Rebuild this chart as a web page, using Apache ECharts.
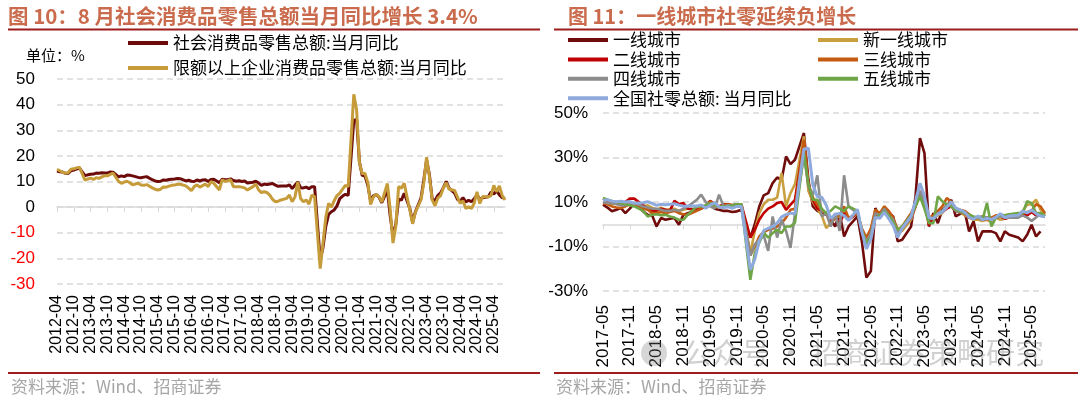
<!DOCTYPE html>
<html lang="zh-CN">
<head>
<meta charset="UTF-8" />
<title>社零</title>
<script src="https://cdn.jsdelivr.net/npm/echarts@6/dist/echarts.min.js"></script>
<style>html,body{margin:0;padding:0;background:#fff;}</style>
</head>
<body>
<div id="main" style="width:1080px;height:398px"></div>
<script>
// month labels, one per month
function monthRange(y0, m0, count) {
  const out = [];
  for (let i = 0; i < count; i++) {
    const t = y0 * 12 + (m0 - 1) + i;
    const y = Math.floor(t / 12), m = (t % 12) + 1;
    out.push(y + "-" + (m < 10 ? "0" + m : m));
  }
  return out;
}
const leftMonths = monthRange(2012, 4, 161);   // 2012-04 .. 2025-08
const rightMonths = monthRange(2017, 5, 100);  // 2017-05 .. 2025-08

// left chart: 社零 / 限额以上 当月同比 (%), Jan left empty
const retail = [
  14.1, 13.8, 13.7, 13.1, 13.2, 14.2, 14.5, 14.9, 15.2,
  null, 12.3, 12.6, 12.8, 12.9, 13.3, 13.2, 13.4, 13.3, 13.3, 13.7, 13.6,
  null, 11.8, 12.2, 11.9, 12.5, 12.4, 12.2, 11.9, 11.6, 11.5, 11.7, 11.9,
  null, 10.7, 10.2, 10.0, 10.1, 10.6, 10.5, 10.8, 10.9, 11.0, 11.2, 11.1,
  null, 10.2, 10.5, 10.1, 10.0, 10.6, 10.2, 10.6, 10.7, 10.0, 10.8, 10.9,
  null, 9.5, 10.9, 10.7, 10.7, 11.0, 10.4, 10.1, 10.3, 10.0, 10.2, 9.4,
  null, 9.7, 10.1, 9.4, 8.5, 9.0, 8.8, 9.0, 9.2, 8.6, 8.1, 8.2,
  null, 8.2, 8.7, 7.2, 8.6, 9.8, 7.6, 7.5, 7.8, 7.2, 8.0, 8.0,
  null, -20.5, -15.8, -7.5, -2.8, -1.8, -1.1, 0.5, 3.3, 4.3, 5.0, 4.6,
  null, 33.8, 34.2, 17.7, 12.4, 12.1, 8.5, 2.5, 4.4, 4.9, 3.9, 1.7,
  null, 6.7, -3.5, -11.1, -6.7, 3.1, 2.7, 5.4, 2.5, -0.5, -5.9, -1.8,
  null, 3.5, 10.6, 18.4, 12.7, 3.1, 2.5, 4.6, 5.5, 7.6, 10.1, 7.4,
  null, 5.5, 3.1, 2.3, 3.7, 2.0, 2.7, 2.1, 3.2, 4.8, 3.0, 3.7,
  null, 4.0, 5.9, 5.1, 6.4, 4.8, 3.7, 3.4
];
const aboveLimit = [
  14.8, 14.2, 13.6, 13.2, 13.5, 14.8, 15.0, 15.3, 15.6,
  null, 10.5, 11.0, 11.3, 10.8, 11.5, 11.2, 11.8, 12.2, 12.2, 12.8, 13.3,
  null, 10.0, 9.3, 9.8, 10.1, 9.5, 8.7, 9.0, 9.3, 8.6, 8.5, 8.8,
  null, 7.5, 7.0, 6.7, 7.0, 7.9, 7.8, 8.2, 8.5, 8.6, 8.9, 8.9,
  null, 8.3, 7.4, 6.4, 8.0, 8.7, 7.8, 8.4, 9.0, 8.0, 10.0, 9.3,
  null, 6.7, 10.7, 10.0, 10.3, 10.7, 8.0, 8.0, 8.0, 7.8, 7.5, 6.7,
  null, 8.0, 9.0, 6.7, 5.7, 6.0, 5.7, 4.7, 3.0, 2.1, 2.3, 2.8,
  null, 3.4, 4.7, 2.1, 4.0, 9.8, 3.4, 2.1, 2.8, 1.2, 4.7, 4.1,
  null, -24.0, -14.0, -4.0, 1.5, 0.0, 2.5, 4.5, 5.5, 7.0, 8.5, 8.0,
  null, 44.0, 38.0, 17.5, 13.0, 13.2, 9.5, 1.0, 4.0, 5.0, 4.0, 2.0,
  null, 9.2, -1.0, -14.0, -7.5, 8.0, 7.4, 9.3, 4.0, -1.0, -6.5, -2.0,
  null, 2.8, 9.5, 19.5, 12.0, 2.8, 0.5, 3.5, 4.5, 7.5, 9.5, 7.0,
  null, 6.5, 4.0, 1.4, 2.5, -0.5, 0.1, -0.5, 1.5, 6.0, 1.4, 4.1,
  null, 4.0, 4.5, 8.5, 6.0, 8.3, 4.5, 2.8
];

// right chart: 各线城市社零当月同比 (%)
const tier1 = [
  8.8, 7.5, 5.8, 6.5, 7.3, 5, 7, 9.5,
  null, 5.8, 4.3, 4, -1, 2.8, 2, 2.5, 2.8, -0.2, 4.3, 5,
  null, 6.5, 7.3, 8, 10.3, 7, 6.5, 6, 6, 5.5, 5.8, 6.5,
  null, -6, 0, 8, 13, 14, 18.5, 21, 20, 30.5, 27, 29,
  null, 41, 20, 8, 6, 5, 4.3, 2, -1, 5, -5.5, -1,
  null, 3.5, -8, -24, -21, 7.3, 2.8, 7.3, 5, 3.5, -7.7, -7,
  null, -1, 12.5, 38.7, 32, -1, 5, 0.5, 6.5, 8, 11, 3.5,
  null, 5.8, -3.2, 1.3, -7.7, -3.2, -3.2, -3.2, -4, -7.7, -3.2, -4.7,
  null, -6, -7.7, -4.7, -0.2, -5.5, -3.2, null
];
const newTier1 = [
  10.5, 9.8, 9, 9.5, 8.8, 8.5, 10, 8.5,
  null, 8, 8.5, 7.5, 6.5, 7.5, 6.5, 6.8, 7, 6, 6.5, 7,
  null, 7, 7.5, 7.5, 9.5, 8, 7.5, 8, 8.5, 8, 8.5, 8.5,
  null, -13, -3, 5, 9, 11, 11, 12, 23, 8, 14, 18,
  null, 39.5, 15, 10, 7, 4, -1.7, 0.5, 3, 3.5, 6, 2,
  null, 5, -3, -8, -2, 6.5, 4, 8, 5, 2, -4, -3,
  null, 2, 8, 14, 10, 3, 2.5, 4, 5, 8, 10, 7,
  null, 4, 3, 2, 2, 1.5, 2, 1, 3, 2, 2.5, 3.5,
  null, 4, 6, 8.8, 9, 11, 6.5, 4.3
];
const tier2 = [
  11.5, 10.5, 10, 9.5, 9, 10, 11.5, 11.5,
  null, 8.5, 7, 6, 6, 7, 6.5, 6, 10.5, 9, 9.5, 7,
  null, 6.5, 7, 8, 10.5, 9, 8, 9, 9, 8.5, 9, 9,
  null, -6, -2.5, 2, 5, 7, 8, 9.5, 10, 6.5, 8.8, 11,
  null, 37, 18, 11, 7, 6, 5, 2, 3.5, 0.5, 5, 2,
  null, 5, -3, -9, -5, 5, 3.5, 7, 4, 1.5, -5, -2,
  null, 3, 8, 15, 10, -0.5, 3, 5, 5.5, 7, 8, 6,
  null, 5, 3, 2.5, 3, 2, 2.5, 2, 3, 3.5, 2.5, 3,
  null, 3.5, 4.5, 4, 5.5, 4, 4, 3.5
];
const tier3 = [
  9.5, 9, 8, 7.5, 7.3, 8, 9, 9,
  null, 7, 6.5, 5, 5, 5.5, 5, 5.5, 6, 5, 4.5, 4.3,
  null, 6, 7, 8, 10.3, 8.5, 8, 8.5, 9, 8.5, 9, 9,
  null, -14, -10, -5.5, -3.5, -2.5, -2, -1, 0.5, 3, 6.5, 7,
  null, 38, 18, 12, 9, 6, 5, 0, 3, 4, 8, 2.8,
  null, 5, -2, -6, -2, 6.5, 5, 8, 6, 3, -2.5, -1,
  null, 5, 9, 12.5, 9, 3, 4, 6, 8, 11.8, 10, 7,
  null, 6, 4.5, 3, 3, 3.5, 3, 3, 4, 4, 3.5, 4.5,
  null, 4.5, 5, 5.5, 6, 9, 8, 5
];
const tier4 = [
  10, 9.5, 9.5, 9, 8.5, 8.5, 9.5, 9.5,
  null, 8, 7.5, 7, 7, 6.5, 6, 6, 6.5, 6, 7, 8,
  null, 11, 13.3, 10, 8, 7, 13.3, 8, 8.5, 8.5, 9, 9,
  null, -14, -9, -7, -5, -12, 3.5, -6, 2, -3, -10.6, 5,
  null, 31, 17, 13, 22, 3.5, 5, -1, 5, -3, 22, 8,
  null, 5, -3, -8, -4, 5, 4, 7, 4, 2, -4, -2,
  null, 3, 9, 15, 9, 2, 3, 5, 6, 9, 8, 6,
  null, 5, 4, 3, 3, 3.5, 3, 2, 3, 3.5, 3, 3,
  null, 3, 4, 3, 1.5, 3, 5, 3.5
];
const tier5 = [
  11.8, 11, 10.5, 10, 9.5, 9, 8.5, 8,
  null, 6, 3.5, 4.3, 4.5, 4, 4.3, 3.5, 3, 2, 2, 4.3,
  null, 8, 8, 8.5, 9.5, 8.5, 8, 8, 8, 8.5, 9, 9,
  null, -25, -13, -8.3, -3.8, -6, -4, -2.5, -4, -1, -1, 0.7,
  null, 32, 18, 11, 11, 7, 5, 6, 8, 7, 6, 8,
  null, 6, -3, -8.5, -6, 2.8, 4, 5.8, 4, 1, -2.5, -1,
  null, 4, 8, 12.5, 7, 0.5, 0.5, 12.5, 10.3, 9, 8, 6.5,
  null, 5, 4.3, 3.5, 3, 2, 9.5, -1, 3, 4.3, 4, 4.5,
  null, 5, 5, 10.3, 9.5, 5, 5, 4
];
const national = [
  10.7, 11.0, 10.4, 10.1, 10.3, 10.0, 10.2, 9.4,
  null, 9.7, 10.1, 9.4, 8.5, 9.0, 8.8, 9.0, 9.2, 8.6, 8.1, 8.2,
  null, 8.2, 8.7, 7.2, 8.6, 9.8, 7.6, 7.5, 7.8, 7.2, 8.0, 8.0,
  null, -20.5, -15.8, -7.5, -2.8, -1.8, -1.1, 0.5, 3.3, 4.3, 5.0, 4.6,
  null, 33.8, 34.2, 17.7, 12.4, 12.1, 8.5, 2.5, 4.4, 4.9, 3.9, 1.7,
  null, 6.7, -3.5, -11.1, -6.7, 3.1, 2.7, 5.4, 2.5, -0.5, -5.9, -1.8,
  null, 3.5, 10.6, 18.4, 12.7, 3.1, 2.5, 4.6, 5.5, 7.6, 10.1, 7.4,
  null, 5.5, 3.1, 2.3, 3.7, 2.0, 2.7, 2.1, 3.2, 4.8, 3.0, 3.7,
  null, 4.0, 5.9, 5.1, 6.4, 4.8, 3.7, 3.4
];

const latin = '"Liberation Sans", Arial, "Noto Sans CJK SC", sans-serif';
const cjk = '"Noto Sans CJK SC", "Liberation Sans", sans-serif';
const titleColor = "#c96b4c";
const ruleColor = "#9e1c1c";
const gridColor = "#d9d9d9";

function lineSeries(name, data, color, xi, yi, width) {
  return {
    name: name, type: "line", data: data, xAxisIndex: xi, yAxisIndex: yi,
    symbol: "none", connectNulls: true, color: color,
    lineStyle: { width: width, color: color }, animation: false
  };
}

function legendBox(names, left, top, gap) {
  return {
    data: names, orient: "vertical", left: left, top: top, padding: 0,
    icon: "rect", itemWidth: 40, itemHeight: 4, itemGap: gap, selectedMode: false,
    textStyle: { fontSize: 17, color: "#000", fontFamily: cjk, lineHeight: 17 }
  };
}

function text(str, x, y, size, color, weight, z) {
  return {
    type: "text", x: x, y: y, z: z || 10,
    style: { text: str, fill: color, fontSize: size, fontWeight: weight || "normal", fontFamily: cjk, verticalAlign: "middle" }
  };
}

const myChart = echarts.init(document.getElementById("main"));
myChart.setOption({
  animation: false,
  textStyle: { fontFamily: latin },
  grid: [
    { left: 57, top: 79, width: 448, height: 205, outerBoundsMode: "none" },
    { left: 603, top: 113, width: 442, height: 178, outerBoundsMode: "none" }
  ],
  legend: [
    legendBox(["社会消费品零售总额:当月同比", "限额以上企业消费品零售总额:当月同比"], 128, 34.5, 8),
    legendBox(["一线城市", "二线城市", "四线城市", "全国社零总额: 当月同比"], 568, 31.5, 2.4),
    legendBox(["新一线城市", "三线城市", "五线城市"], 818, 31.5, 2.4)
  ],
  xAxis: [
    {
      gridIndex: 0, type: "category", data: leftMonths, boundaryGap: false,
      axisLine: { onZero: true, lineStyle: { color: gridColor, width: 1.5 } },
      axisTick: { interval: 5, length: 5, lineStyle: { color: gridColor } },
      axisLabel: { show: false }, splitLine: { show: false }
    },
    {
      gridIndex: 0, type: "category", data: leftMonths, boundaryGap: false, position: "bottom",
      axisLine: { show: false, onZero: false }, axisTick: { show: false },
      axisLabel: { interval: 5, rotate: 90, fontSize: 16, margin: 11, color: "#000" }
    },
    {
      gridIndex: 1, type: "category", data: rightMonths, boundaryGap: false,
      axisLine: { onZero: true, lineStyle: { color: gridColor, width: 1.5 } },
      axisTick: { interval: 5, length: 5, lineStyle: { color: gridColor } },
      axisLabel: { show: false }, splitLine: { show: false }
    },
    {
      gridIndex: 1, type: "category", data: rightMonths, boundaryGap: false, position: "bottom",
      axisLine: { show: false, onZero: false }, axisTick: { show: false },
      axisLabel: { interval: 5, rotate: 90, fontSize: 17, margin: 14, color: "#000" }
    }
  ],
  yAxis: [
    {
      gridIndex: 0, type: "value", min: -30, max: 50, interval: 10,
      axisLine: { show: false }, axisTick: { show: false },
      splitLine: { lineStyle: { color: gridColor, type: [6, 4], width: 1.5 } },
      axisLabel: {
        fontSize: 17, margin: 22,
        color: function (v) { return Number(v) < 0 ? "#ff0000" : "#000"; }
      }
    },
    {
      gridIndex: 1, type: "value", min: -30, max: 50, interval: 10,
      axisLine: { show: false }, axisTick: { show: false },
      splitLine: { lineStyle: { color: [gridColor, "rgba(0,0,0,0)"], type: [6, 4], width: 1.5 } },
      axisLabel: {
        fontSize: 17, margin: 15, color: "#000",
        formatter: function (v) { return v % 20 === 0 ? "" : v + "%"; }
      }
    }
  ],
  series: [
    lineSeries("社会消费品零售总额:当月同比", retail, "#6d0b0b", 0, 0, 3),
    lineSeries("限额以上企业消费品零售总额:当月同比", aboveLimit, "#c69b3a", 0, 0, 3),
    lineSeries("一线城市", tier1, "#700c0c", 2, 1, 2.6),
    lineSeries("新一线城市", newTier1, "#c9a040", 2, 1, 2.6),
    lineSeries("二线城市", tier2, "#c00000", 2, 1, 2.6),
    lineSeries("三线城市", tier3, "#c55a11", 2, 1, 2.6),
    lineSeries("四线城市", tier4, "#8c8c8c", 2, 1, 2.6),
    lineSeries("五线城市", tier5, "#6ea546", 2, 1, 2.6),
    lineSeries("全国社零总额: 当月同比", national, "#8faadc", 2, 1, 3)
  ],
  graphic: [
    text("图 10：8 月社会消费品零售总额当月同比增长 3.4%", 8, 16, 20.5, titleColor, "bold"),
    text("图 11：一线城市社零延续负增长", 568, 16, 20, titleColor, "bold"),
    { type: "line", shape: { x1: 8, y1: 29.5, x2: 540, y2: 29.5 }, style: { stroke: ruleColor, lineWidth: 2 } },
    { type: "line", shape: { x1: 554, y1: 29.5, x2: 1078, y2: 29.5 }, style: { stroke: ruleColor, lineWidth: 2 } },
    { type: "line", shape: { x1: 8, y1: 373, x2: 540, y2: 373 }, style: { stroke: ruleColor, lineWidth: 2 } },
    { type: "line", shape: { x1: 554, y1: 373, x2: 1078, y2: 373 }, style: { stroke: ruleColor, lineWidth: 2 } },
    text("单位：%", 26, 55, 15, "#000"),
    text("资料来源：Wind、招商证券", 11, 387, 17, "#a6a6a6"),
    text("资料来源：Wind、招商证券", 556, 387, 17, "#a6a6a6"),
    { type: "circle", shape: { cx: 654, cy: 353, r: 13 }, style: { fill: "rgba(120,120,120,0.3)" }, z: 100 },
    text("公众号 · 招商证券策略研究", 683, 353, 29, "rgba(120,120,120,0.35)", "normal", 100)
  ]
});
</script>
</body>
</html>
